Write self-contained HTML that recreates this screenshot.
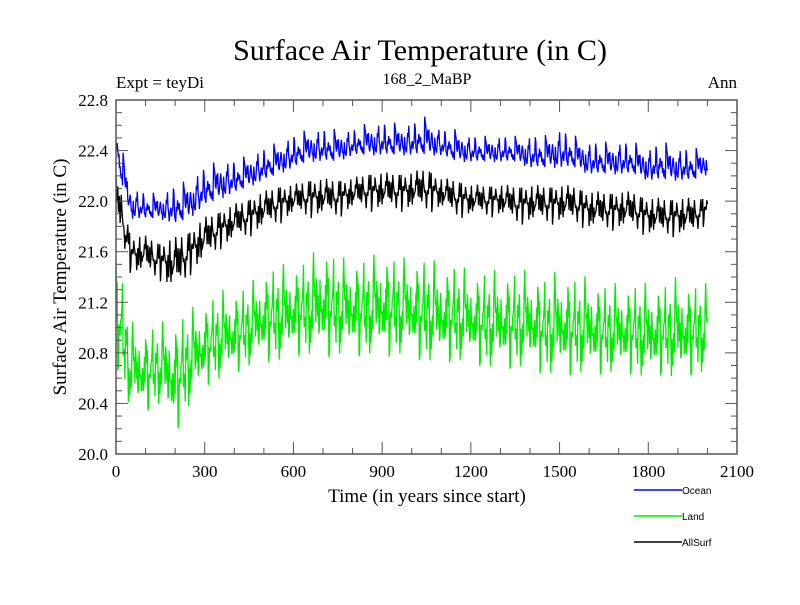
<!DOCTYPE html>
<html><head><meta charset="utf-8"><style>
body{margin:0;background:#fff;}
svg text{font-family:"Liberation Serif",serif;}
</style></head><body>
<svg id="chart" width="800" height="600" xmlns="http://www.w3.org/2000/svg">
<rect width="800" height="600" fill="#fff"/>
<text x="420" y="60" font-size="30" text-anchor="middle">Surface Air Temperature (in C)</text>
<text x="116" y="88" font-size="17">Expt = teyDi</text>
<text x="427" y="84" font-size="16" text-anchor="middle">168_2_MaBP</text>
<text x="737" y="88" font-size="17" text-anchor="end">Ann</text>
<text transform="translate(66,277) rotate(-90)" font-size="19" text-anchor="middle">Surface Air Temperature (in C)</text>
<text x="427" y="502" font-size="19" text-anchor="middle">Time (in years since start)</text>
<g id="series"></g>
<g id="axes"></g>
<g>
<line x1="634" y1="490" x2="682" y2="490" stroke="#0000ff" stroke-width="1.5"/><text x="682" y="494" font-size="10" style="font-family:'Liberation Sans',sans-serif">Ocean</text>
<line x1="634" y1="516" x2="682" y2="516" stroke="#00ee00" stroke-width="1.5"/><text x="682" y="520" font-size="10" style="font-family:'Liberation Sans',sans-serif">Land</text>
<line x1="634" y1="542" x2="682" y2="542" stroke="#000" stroke-width="1.5"/><text x="682" y="546" font-size="10" style="font-family:'Liberation Sans',sans-serif">AllSurf</text>
</g>
</svg>
<script>
const years=[];for(let i=0;i<=40;i++)years.push(i*50);
const oceanUpper=[22.6,22.1,22.05,22.05,22.1,22.15,22.25,22.3,22.3,22.35,22.4,22.45,22.5,22.55,22.55,22.55,22.55,22.6,22.6,22.6,22.6,22.65,22.55,22.55,22.5,22.5,22.5,22.5,22.5,22.5,22.55,22.5,22.45,22.45,22.45,22.45,22.4,22.45,22.4,22.4,22.4];
const oceanLower=[22.3,21.85,21.85,21.85,21.8,21.85,21.95,22.0,22.05,22.1,22.15,22.2,22.25,22.3,22.3,22.3,22.35,22.35,22.35,22.35,22.35,22.35,22.35,22.3,22.3,22.3,22.3,22.3,22.25,22.25,22.25,22.25,22.2,22.2,22.2,22.2,22.15,22.15,22.15,22.15,22.2];
const allsurfUpper=[22.3,21.75,21.75,21.7,21.75,21.8,21.9,21.95,22.0,22.05,22.1,22.15,22.15,22.2,22.2,22.2,22.2,22.25,22.25,22.25,22.25,22.3,22.2,22.2,22.15,22.15,22.15,22.15,22.15,22.15,22.15,22.15,22.1,22.1,22.1,22.1,22.05,22.05,22.05,22.05,22.05];
const allsurfLower=[21.9,21.45,21.45,21.4,21.3,21.45,21.55,21.65,21.7,21.75,21.8,21.85,21.9,21.9,21.9,21.9,21.95,21.95,21.95,21.95,21.95,21.95,21.95,21.9,21.9,21.9,21.9,21.85,21.85,21.85,21.85,21.85,21.8,21.8,21.8,21.8,21.75,21.75,21.75,21.75,21.85];
const landUpper=[21.6,21.0,20.95,21.0,21.0,21.1,21.15,21.25,21.25,21.3,21.4,21.45,21.45,21.5,21.6,21.5,21.5,21.5,21.55,21.5,21.5,21.5,21.45,21.45,21.4,21.4,21.4,21.4,21.4,21.35,21.4,21.35,21.35,21.3,21.3,21.3,21.3,21.3,21.35,21.3,21.3];
const landLower=[20.8,20.4,20.4,20.45,20.25,20.45,20.6,20.65,20.7,20.75,20.8,20.8,20.85,20.85,20.85,20.85,20.85,20.85,20.85,20.85,20.85,20.8,20.8,20.8,20.8,20.75,20.75,20.75,20.75,20.7,20.7,20.7,20.7,20.7,20.7,20.7,20.65,20.7,20.65,20.7,20.7];
const xTicks=[0,300,600,900,1200,1500,1800,2100];
const yTicks=[20.0,20.4,20.8,21.2,21.6,22.0,22.4,22.8];
const L=116,R=737,T=100,B=454;
const sx=v=>L+(v/2100)*(R-L), sy=v=>B-(v-20)/2.8*(B-T);
const NS="http://www.w3.org/2000/svg";
function mk(tag,attrs,parent){const e=document.createElementNS(NS,tag);for(const k in attrs)e.setAttribute(k,attrs[k]);parent.appendChild(e);return e;}
function interp(arr,yr){const i=Math.min(Math.floor(yr/50),arr.length-2);const f=(yr-years[i])/50;return arr[i]+(arr[i+1]-arr[i])*f;}
const phase=[0.75,0.25,0.6,0.1,0.9,0.35,0.55,0.05,0.8,0.4,0.65,0.2,1.0,0.3,0.5,0.0,0.45];
const sg=document.getElementById('series');
[[landUpper,landLower,'#00ee00','land-series'],[oceanUpper,oceanLower,'#0000ff','ocean-series'],[allsurfUpper,allsurfLower,'#000000','allsurf-series']].forEach(([up,lo,c,n],si)=>{
 let d='';
 for(let yr=0,k=0;yr<=2000;yr+=2,k++){
  const u=interp(up,yr),l=interp(lo,yr);
  const f=(phase[(k*(si+5))%17]+phase[(Math.floor(k/3)*7+si)%17])/2*1.3-0.15;
  d+=(k?'L':'M')+sx(yr).toFixed(1)+','+sy(l+(u-l)*f).toFixed(1);
 }
 const p=mk('path',{d:d,fill:'none',stroke:c,'stroke-width':1.3,'stroke-linejoin':'bevel'},sg);
 
 
});
const ag=document.getElementById('axes');
const fr=mk('rect',{x:L,y:T,width:R-L,height:B-T,fill:'none',stroke:'#555','stroke-width':1.5},ag);


for(let v=0;v<=2100;v+=100){const x=sx(v),len=v%300===0?12:6;mk('line',{x1:x,y1:B,x2:x,y2:B-len,stroke:'#555'},ag);mk('line',{x1:x,y1:T,x2:x,y2:T+len,stroke:'#555'},ag);}
for(let k=0;k<=28;k++){const y=sy(20+k*0.1),len=k%4===0?12:6;mk('line',{x1:L,y1:y,x2:L+len,y2:y,stroke:'#555'},ag);mk('line',{x1:R,y1:y,x2:R-len,y2:y,stroke:'#555'},ag);}
xTicks.forEach(v=>{const t=mk('text',{x:sx(v),y:B+23,'font-size':17,'text-anchor':'middle'},ag);t.textContent=v;
 
 });
yTicks.forEach(v=>{const t=mk('text',{x:L-8,y:sy(v)+6,'font-size':17,'text-anchor':'end'},ag);t.textContent=v.toFixed(1);
 
 });
</script>
</body></html>
